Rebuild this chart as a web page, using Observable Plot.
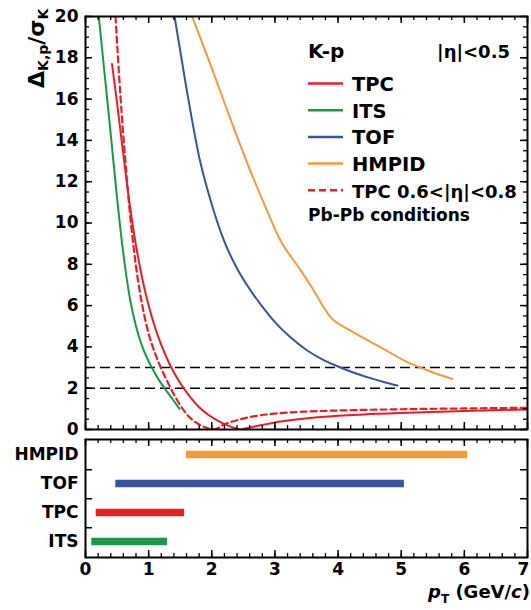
<!DOCTYPE html>
<html><head><meta charset="utf-8">
<script src="https://cdn.jsdelivr.net/npm/d3@7"></script>
<script src="https://cdn.jsdelivr.net/npm/@observablehq/plot@0.6"></script>
<style>
body{margin:0;background:#fff;}
#chart{position:relative;width:531px;height:610px;background:#fff;}
#chart svg{display:block;}
</style></head><body><div id="chart"></div>
<script>
// ---------- data ----------
const itsPt  = [0.21, 0.30, 0.40, 0.50, 0.60, 0.70, 0.80, 0.90, 1.00, 1.10, 1.20, 1.30, 1.40, 1.49];
const itsSep = [20, 17.3, 14.3, 11.2, 8.5, 6.4, 5.0, 4.0, 3.3, 2.72, 2.22, 1.8, 1.38, 1.0];

const tpcPt  = [0.42, 0.50, 0.60, 0.70, 0.80, 0.90, 1.00, 1.10, 1.20, 1.35, 1.50, 1.65, 1.80, 1.95, 2.10, 2.25, 2.40, 2.46, 2.60, 2.80, 3.00, 3.30, 3.60, 4.00, 4.40, 5.20, 6.00, 7.00];
const tpcSep = [17.7, 15.8, 13.3, 10.9, 8.9, 7.3, 6.0, 4.95, 4.1, 3.05, 2.25, 1.6, 1.08, 0.7, 0.42, 0.2, 0.04, 0.0, 0.1, 0.22, 0.34, 0.47, 0.57, 0.66, 0.73, 0.82, 0.90, 0.97];

const tpcFwdPt  = [0.475, 0.55, 0.60, 0.70, 0.80, 0.90, 1.00, 1.10, 1.20, 1.30, 1.40, 1.50, 1.60, 1.70, 1.80, 1.90, 2.03, 2.20, 2.40, 2.60, 3.00, 3.50, 4.00, 5.00, 6.00, 7.00];
const tpcFwdSep = [20, 16.3, 14.2, 10.6, 7.9, 6.0, 4.65, 3.7, 2.95, 2.3, 1.7, 1.18, 0.75, 0.45, 0.24, 0.1, 0.0, 0.25, 0.45, 0.6, 0.77, 0.87, 0.92, 0.98, 1.02, 1.05];

const tofPt  = [1.41, 1.60, 1.80, 2.00, 2.20, 2.40, 2.60, 2.80, 3.00, 3.25, 3.50, 3.75, 4.00, 4.25, 4.50, 4.75, 4.94];
const tofSep = [20, 16.5, 13.2, 10.9, 9.1, 7.8, 6.8, 5.95, 5.2, 4.45, 3.85, 3.4, 3.05, 2.75, 2.5, 2.28, 2.13];

const hmpidPt  = [1.69, 2.00, 2.30, 2.62, 2.83, 3.06, 3.41, 3.57, 3.88, 4.20, 4.67, 5.10, 5.42, 5.81];
const hmpidSep = [20, 17.5, 15.0, 12.45, 10.93, 9.31, 7.7, 6.95, 5.44, 4.79, 3.99, 3.26, 2.86, 2.45];

const thresholds = [2, 3];

const detectors = ["HMPID", "TOF", "TPC", "ITS"];
const rangeLo = [1.6, 0.48, 0.17, 0.1];
const rangeHi = [6.05, 5.05, 1.57, 1.3];

const yTickLabels = [0, 2, 4, 6, 8, 10, 12, 14, 16, 18, 20];
const xTickLabels = [0, 1, 2, 3, 4, 5, 6, 7];

const legendNames = ["TPC", "ITS", "TOF", "HMPID", "TPC 0.6<|η|<0.8"];

// ---------- styles ----------
const RED = "#ec1c24", GREEN = "#17994a", BLUE = "#3953a4", ORANGE = "#f7993b";
const detColors = {HMPID: ORANGE, TOF: BLUE, TPC: RED, ITS: GREEN};
const legendColors = [RED, GREEN, BLUE, ORANGE, RED];
const legendDash = [null, null, null, null, "7,4"];
const FONT = "DejaVu Sans";
const W = 531, ML = 85, MR = 4;
const PW = W - ML - MR;

const toRows = (xs, ys) => xs.map((x, i) => ({x, y: ys[i]}));

const xMinor = d3.range(0, 36).map(i => i / 5);
const xMajor = xTickLabels;

function xFrameTicks(ph) {
  return [
    Plot.tickX(xMinor, {x: d => d, stroke: "black", strokeWidth: 1.3, insetBottom: ph - 4}),
    Plot.tickX(xMajor, {x: d => d, stroke: "black", strokeWidth: 1.5, insetBottom: ph - 7}),
    Plot.tickX(xMinor, {x: d => d, stroke: "black", strokeWidth: 1.3, insetTop: ph - 4}),
    Plot.tickX(xMajor, {x: d => d, stroke: "black", strokeWidth: 1.5, insetTop: ph - 7})
  ];
}

// ---------- top panel ----------
const TH = 445, TMT = 16, TMB = 16, TPH = TH - TMT - TMB;
const yMinor = d3.range(0, 41).map(i => i / 2);

const topPlot = Plot.plot({
  width: W, height: TH,
  marginLeft: ML, marginRight: MR, marginTop: TMT, marginBottom: TMB,
  x: {domain: [0, 7], axis: null},
  y: {domain: [0, 20], axis: null},
  style: {fontFamily: FONT, fontSize: "17px", fontWeight: "bold", color: "black", background: "transparent"},
  marks: [
    Plot.ruleY(thresholds, {stroke: "black", strokeWidth: 1.5, strokeDasharray: "10,5"}),
    Plot.line(toRows(itsPt, itsSep), {x: "x", y: "y", stroke: GREEN, strokeWidth: 2, curve: "monotone-x", clip: true}),
    Plot.line(toRows(tofPt, tofSep), {x: "x", y: "y", stroke: BLUE, strokeWidth: 2, curve: "monotone-x", clip: true}),
    Plot.line(toRows(hmpidPt, hmpidSep), {x: "x", y: "y", stroke: ORANGE, strokeWidth: 2, curve: "monotone-x", clip: true}),
    Plot.line(toRows(tpcFwdPt, tpcFwdSep), {x: "x", y: "y", stroke: RED, strokeWidth: 2.2, strokeDasharray: "6,4", curve: "monotone-x", clip: true}),
    Plot.line(toRows(tpcPt, tpcSep), {x: "x", y: "y", stroke: RED, strokeWidth: 2, curve: "monotone-x", clip: true}),
    ...xFrameTicks(TPH),
    Plot.tickY(yMinor, {y: d => d, stroke: "black", strokeWidth: 1.3, insetRight: PW - 4}),
    Plot.tickY(yTickLabels, {y: d => d, stroke: "black", strokeWidth: 1.5, insetRight: PW - 7}),
    Plot.tickY(yMinor, {y: d => d, stroke: "black", strokeWidth: 1.3, insetLeft: PW - 4}),
    Plot.tickY(yTickLabels, {y: d => d, stroke: "black", strokeWidth: 1.5, insetLeft: PW - 7}),
    Plot.axisY(yTickLabels, {tickSize: 0, tickPadding: 7, label: null, fontSize: 17, fontWeight: "bold"}),
    Plot.frame({stroke: "black", strokeWidth: 2})
  ]
});

// ---------- bottom panel ----------
const BH = 175, BMT = 4, BMB = 53, BPH = BH - BMT - BMB;
const band = BPH / detectors.length;
const barRows = detectors.map((d, i) => ({det: d, lo: rangeLo[i], hi: rangeHi[i]}));

const botPlot = Plot.plot({
  width: W, height: BH,
  marginLeft: ML, marginRight: MR, marginTop: BMT, marginBottom: BMB,
  x: {domain: [0, 7], axis: null},
  y: {domain: detectors, padding: 0, axis: null},
  style: {fontFamily: FONT, fontSize: "17px", fontWeight: "bold", color: "black", background: "transparent"},
  marks: [
    Plot.barX(barRows, {x1: "lo", x2: "hi", y: "det", fill: d => detColors[d.det], insetTop: 10.75, insetBottom: 10.75}),
    ...xFrameTicks(BPH),
    Plot.tickY(detectors.slice(0, 3), {y: d => d, dy: band / 2, stroke: "black", strokeWidth: 1.5, insetRight: PW - 7}),
    Plot.tickY(detectors.slice(0, 3), {y: d => d, dy: band / 2, stroke: "black", strokeWidth: 1.5, insetLeft: PW - 7}),
    Plot.axisY({tickSize: 0, tickPadding: 7, label: null, fontSize: 17, fontWeight: "bold"}),
    Plot.axisX(xTickLabels, {tickSize: 0, tickPadding: 5, label: null, fontSize: 17, fontWeight: "bold", tickFormat: d3.format("d")}),
    Plot.frame({stroke: "black", strokeWidth: 2})
  ]
});

const chart = document.getElementById("chart");
chart.append(topPlot, botPlot);
botPlot.style.marginTop = (435 - TH) + "px";

// ---------- annotations (legend, axis titles) ----------
const ts = d3.select(topPlot);

// y-axis title: Δ_{K,p}/σ_K
const yl = ts.append("text")
  .attr("transform", "translate(44,88) rotate(-90)")
  .attr("font-family", FONT).attr("font-weight", "bold").attr("fill", "black")
  .attr("text-anchor", "start");
yl.append("tspan").attr("font-size", 22).text("Δ");
yl.append("tspan").attr("font-size", 14).attr("dy", 4).text("K,p");
yl.append("tspan").attr("font-size", 22).attr("dy", -4).text("/σ");
yl.append("tspan").attr("font-size", 14).attr("dy", 4).text("K");

// legend header
ts.append("text").attr("x", 308).attr("y", 58).attr("text-anchor", "start")
  .attr("font-family", FONT).attr("font-weight", "bold").attr("font-size", 20).attr("fill", "black")
  .text("K-p");
ts.append("text").attr("x", 510).attr("y", 58).attr("text-anchor", "end")
  .attr("font-family", FONT).attr("font-weight", "bold").attr("font-size", 18).attr("fill", "black")
  .text("|η|<0.5");

legendNames.forEach((name, i) => {
  const y = 83.5 + i * 26.7;
  const ln = ts.append("line").attr("x1", 308).attr("x2", 343).attr("y1", y).attr("y2", y)
    .attr("stroke", legendColors[i]).attr("stroke-width", 2.5);
  if (legendDash[i]) ln.attr("stroke-dasharray", legendDash[i]);
  ts.append("text").attr("x", 352).attr("y", y + 7.5).attr("text-anchor", "start")
    .attr("font-family", FONT).attr("font-weight", "bold")
    .attr("font-size", i === 4 ? 18 : 19.5).attr("fill", "black")
    .text(name);
});
ts.append("text").attr("x", 308).attr("y", 221).attr("text-anchor", "start")
  .attr("font-family", FONT).attr("font-weight", "bold").attr("font-size", 17).attr("fill", "black")
  .text("Pb-Pb conditions");

// x-axis title: p_T (GeV/c)
const bs = d3.select(botPlot);
bs.selectAll("text").filter(function() { return this.textContent === "7"; }).attr("dx", -4);
const xl = bs.append("text").attr("x", 530).attr("y", 163).attr("text-anchor", "end")
  .attr("font-family", FONT).attr("font-weight", "bold").attr("font-size", 18).attr("fill", "black");
xl.append("tspan").attr("font-style", "italic").text("p");
xl.append("tspan").attr("font-size", 12).attr("dy", 5).text("T");
xl.append("tspan").attr("dy", -5).text(" (GeV/");
xl.append("tspan").attr("font-style", "italic").text("c");
xl.append("tspan").text(")");
</script></body></html>
